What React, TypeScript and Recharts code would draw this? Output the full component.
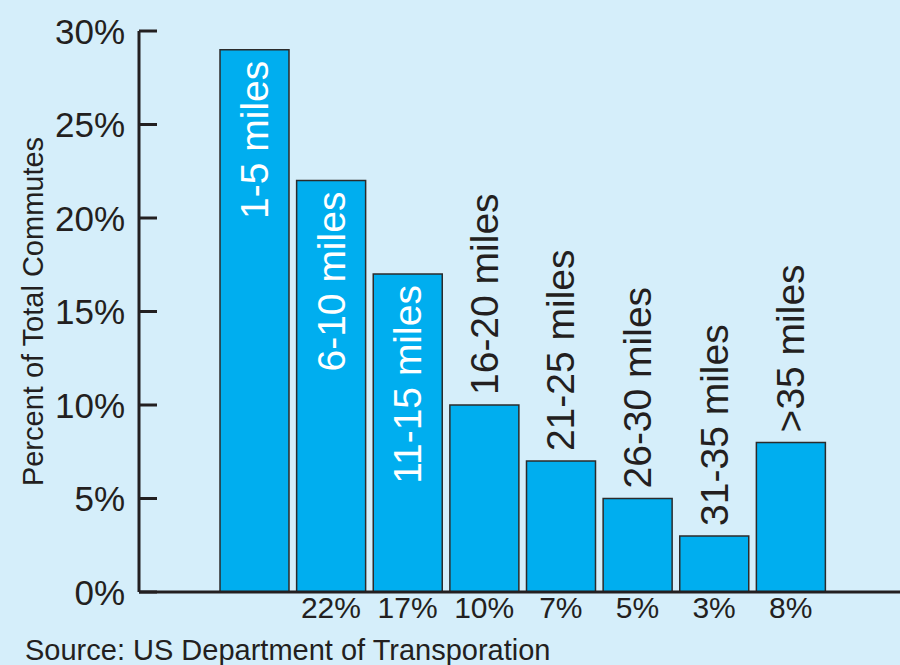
import { BarChart, Bar, XAxis, YAxis, LabelList } from 'recharts';

const categories = ['1-5 miles', '6-10 miles', '11-15 miles', '16-20 miles', '21-25 miles', '26-30 miles', '31-35 miles', '>35 miles'];
const shares = [29, 22, 17, 10, 7, 5, 3, 8];
const shareLabels = ['', '22%', '17%', '10%', '7%', '5%', '3%', '8%'];
const yTicks = [0, 5, 10, 15, 20, 25, 30];

const data = categories.map((category, i) => ({ category, share: shares[i] }));

const FONT = '"Liberation Sans", Arial, Helvetica, sans-serif';
const INK = '#231f20';
const BG = '#d5eefa';

const YTick = (props: any) => {
  const { x, y, payload } = props;
  return (
    <g>
      <line x1={x} x2={x + 18} y1={y} y2={y} stroke={INK} strokeWidth={3} />
      <text x={x - 14} y={y} textAnchor="end" dominantBaseline="central" fontSize={35} fill={INK} fontFamily={FONT}>
        {payload.value}%
      </text>
    </g>
  );
};

const BarName = (props: any) => {
  const { x, y, width, value, index } = props;
  const cx = x + width / 2;
  const inside = shares[index] >= 15;
  const ay = inside ? y + 11 : y - 10;
  return (
    <text
      x={cx}
      y={ay}
      transform={`rotate(-90, ${cx}, ${ay})`}
      textAnchor={inside ? 'end' : 'start'}
      dominantBaseline="central"
      fontSize={39}
      fill={inside ? '#ffffff' : INK}
      fontFamily={FONT}
    >
      {value}
    </text>
  );
};

export default function App() {
  return (
    <div style={{ position: 'absolute', left: 0, top: 0, width: 900, height: 665, background: BG, overflow: 'hidden' }}>
      <BarChart
        width={900}
        height={665}
        data={data}
        margin={{ top: 31, right: 0, bottom: 33, left: 0 }}
        barSize={69}
      >
        <XAxis
          dataKey="category"
          padding={{ left: 77, right: 71 }}
          axisLine={{ stroke: INK, strokeWidth: 3 }}
          tickLine={false}
          tickSize={0}
          tickMargin={5}
          height={40}
          interval={0}
          tickFormatter={(_v: any, i: number) => shareLabels[i]}
          tick={{ fontSize: 30, fill: INK, fontFamily: FONT }}
        />
        <YAxis
          type="number"
          domain={[0, 30]}
          ticks={yTicks}
          width={139}
          axisLine={{ stroke: INK, strokeWidth: 3 }}
          tickLine={false}
          tickSize={0}
          tickMargin={0}
          tick={<YTick />}
          label={{
            content: (p: any) => {
              const vb = p.viewBox || { y: 31, height: 561 };
              const cy = vb.y + vb.height / 2;
              return (
                <text
                  x={33}
                  y={cy}
                  transform={`rotate(-90, 33, ${cy})`}
                  textAnchor="middle"
                  dominantBaseline="central"
                  fontSize={29}
                  fill={INK}
                  fontFamily={FONT}
                >
                  Percent of Total Commutes
                </text>
              );
            },
          }}
        />
        <Bar dataKey="share" fill="#00aeef" stroke="#2b2b2b" strokeWidth={1.5} isAnimationActive={false}>
          <LabelList dataKey="category" content={<BarName />} />
        </Bar>
      </BarChart>
      <svg width={900} height={665} style={{ position: 'absolute', left: 0, top: 0, pointerEvents: 'none' }}>
        <text x={25} y={660} fontSize={29} fill={INK} fontFamily={FONT}>
          Source: US Department of Transporation
        </text>
      </svg>
    </div>
  );
}
